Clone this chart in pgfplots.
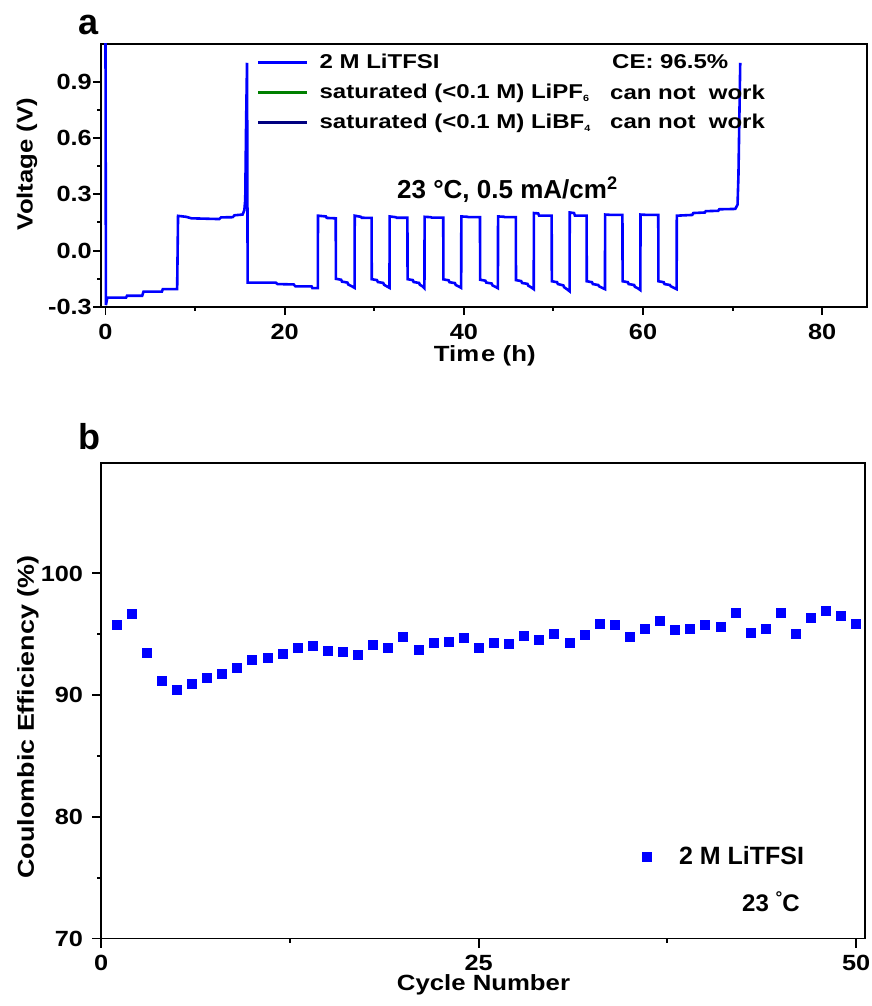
\documentclass[border=0pt]{standalone}
\usepackage{pgfplots}
\pgfplotsset{compat=1.18}
\usepackage{fontspec}
\setmainfont{Liberation Sans}
\newfontfamily\stretchfont{Liberation Sans}[FakeStretch=1.2]
\newfontfamily\labfont{Liberation Sans}[FakeStretch=1.17]
\newfontfamily\tickfont{Liberation Sans}[FakeStretch=1.15]
\definecolor{cblue}{RGB}{0,0,255}
\definecolor{cgreen}{RGB}{0,128,0}
\definecolor{cnavy}{RGB}{0,0,128}
\newcommand{\fs}[1]{\fontsize{#1bp}{#1bp}\selectfont}
\pgfplotsset{
  common/.style={
    scale only axis,
    axis line style={line width=1.9bp},
    tick style={line width=1.9bp, black},
    major tick length=8bp, minor tick length=4bp,
    tick align=outside,
    xtick pos=bottom, ytick pos=left,
    /pgf/number format/assume math mode=true,
    tick label style={font=\tickfont\bfseries\fs{22}},
  }
}
\begin{document}
\begin{tikzpicture}[x=1bp,y=1bp]
\useasboundingbox (0,0) rectangle (872,1006);
% ---------------- panel a ----------------
\begin{axis}[common,
  at={(101bp,699bp)}, anchor=south west,
  width=766bp, height=263bp,
  xmin=-0.5, xmax=85, ymin=-0.3, ymax=1.1,
  xtick={0,20,40,60,80}, minor x tick num=1,
  ytick={-0.3,0,0.3,0.6,0.9}, yticklabels={-0.3,0.0,0.3,0.6,0.9},
  minor y tick num=1,
  yticklabel style={inner sep=1bp},
  xticklabel style={inner sep=1bp, yshift=-8bp},
  xlabel={Tim\kern2bp e (h)},
  ylabel={Voltage (V)},
  every axis x label/.style={at={(rel axis cs:0.501,-0.209)}, anchor=base, font=\labfont\bfseries\fs{22}},
  every axis y label/.style={at={(rel axis cs:-0.0966,0.5437)}, anchor=center, rotate=90, font=\labfont\bfseries\fs{22}},
  legend style={draw=none, fill=none, at={(0.2037,0.9837)}, anchor=north west,
    inner sep=0pt, outer sep=0pt, row sep=0pt, column sep=11bp,
    font=\stretchfont\bfseries\fs{20},
    nodes={inner sep=0pt, outer sep=0pt, text height=20bp, text depth=10bp, anchor=base west}},
  legend cell align=left,
  legend image code/.code={\draw[#1] (0bp,6bp) -- (49bp,6bp);},
]
\addplot[cblue, line width=2.6bp, line join=miter] coordinates {
(0,1.2) (0.05,-0.29) (0.2,-0.25) (2.3,-0.25) (2.4,-0.24) (4.1,-0.24) (4.25,-0.218)
(6.3,-0.218) (6.4,-0.205) (8.0,-0.205) (8.1,0.185) (9.0,0.18) (9.6,0.172)
(12.7,0.168) (12.9,0.177) (14.2,0.178) (14.4,0.188) (15.3,0.192) (15.5,0.215)
(15.6,0.27) (15.7,0.69) (15.8,1.0) (15.87,-0.17) (19.0,-0.17) (19.2,-0.178)
(21.0,-0.18) (21.2,-0.19) (23.0,-0.19) (23.1,-0.2) (23.7,-0.2)
(23.72,0.186) (24.6,0.182) (24.7,0.174) (25.7,0.172)
(25.72,-0.15) (26.3,-0.155) (26.4,-0.165) (27.0,-0.17) (27.1,-0.18) (27.5,-0.19) (27.8,-0.198)
(27.82,0.186) (28.5,0.18) (28.6,0.175) (29.7,0.174)
(29.72,-0.152) (30.3,-0.157) (30.4,-0.167) (31.0,-0.172) (31.1,-0.182) (31.4,-0.19) (31.7,-0.198)
(31.72,0.182) (32.4,0.178) (32.5,0.175) (33.7,0.175)
(33.72,-0.152) (34.3,-0.157) (34.4,-0.167) (35.0,-0.172) (35.1,-0.182) (35.4,-0.19) (35.6,-0.2)
(35.62,0.18) (36.3,0.178) (36.4,0.176) (37.7,0.176)
(37.72,-0.153) (38.3,-0.158) (38.4,-0.168) (39.0,-0.173) (39.1,-0.183) (39.4,-0.19) (39.7,-0.198)
(39.72,0.182) (40.4,0.18) (40.5,0.178) (41.8,0.178)
(41.82,-0.155) (42.4,-0.16) (42.5,-0.17) (43.1,-0.175) (43.2,-0.185) (43.5,-0.192) (43.8,-0.2)
(43.82,0.182) (44.5,0.18) (44.6,0.178) (45.8,0.178)
(45.82,-0.157) (46.4,-0.162) (46.5,-0.172) (47.1,-0.177) (47.2,-0.187) (47.5,-0.195) (47.8,-0.205)
(47.82,0.2) (48.3,0.198) (48.4,0.186) (49.8,0.186)
(49.82,-0.163) (50.4,-0.168) (50.5,-0.178) (51.1,-0.185) (51.2,-0.195) (51.5,-0.205) (51.8,-0.216)
(51.82,0.203) (52.3,0.2) (52.4,0.186) (53.7,0.186)
(53.72,-0.163) (54.3,-0.168) (54.4,-0.178) (55.0,-0.183) (55.1,-0.19) (55.4,-0.197) (55.75,-0.205)
(55.77,0.192) (56.5,0.19) (57.7,0.19)
(57.72,-0.163) (58.3,-0.168) (58.4,-0.178) (59.0,-0.183) (59.1,-0.193) (59.4,-0.2) (59.7,-0.21)
(59.72,0.192) (60.5,0.19) (61.7,0.19)
(61.72,-0.163) (62.3,-0.168) (62.4,-0.178) (63.0,-0.183) (63.1,-0.19) (63.4,-0.197) (63.75,-0.205)
(63.77,0.186) (65.5,0.19) (65.6,0.2) (66.9,0.203) (67.0,0.21) (68.4,0.212) (68.5,0.22)
(70.3,0.222) (70.55,0.245) (70.65,0.4) (70.85,1.0)
};
\addlegendentry{2 M LiTFSI}
\addlegendimage{cgreen, line width=2.6bp}
\addlegendentry{saturated (<0.1 M) LiPF\textsubscript{\fs{9}6}}
\addlegendimage{cnavy, line width=2.6bp}
\addlegendentry{saturated (<0.1 M) LiBF\textsubscript{\fs{9}4}}
\end{axis}
\node[anchor=base west, inner sep=0] at (78,971) {\bfseries\fs{36}a};
\node[anchor=base west, inner sep=0] at (612,937.7) {\stretchfont\bfseries\fs{20}CE: 96.5\%};
\node[anchor=base west, inner sep=0] at (610,906.5) {\stretchfont\bfseries\fs{20}can not\ \ work};
\node[anchor=base west, inner sep=0] at (610,877.5) {\stretchfont\bfseries\fs{20}can not\ \ work};
\node[anchor=base west, inner sep=0] at (397,807.7) {\bfseries\fs{26}23 °C, 0.5 mA/cm\textsuperscript{2}};
% ---------------- panel b ----------------
\begin{axis}[common,
  at={(101.2bp,67.5bp)}, anchor=south west,
  width=764bp, height=475.8bp,
  xmin=0, xmax=50.6, ymin=70, ymax=109.1,
  xtick={0,25,50}, minor x tick num=1,
  ytick={70,80,90,100}, minor y tick num=1,
  major tick length=9bp,
  yticklabel style={inner sep=1bp, xshift=-8bp},
  xticklabel style={inner sep=1bp, yshift=-6bp},
  xlabel={Cycle Number},
  ylabel={Coulombic Efficiency (\%)},
  every axis x label/.style={at={(rel axis cs:0.5004,-0.109)}, anchor=base, font=\labfont\bfseries\fs{22}},
  every axis y label/.style={at={(rel axis cs:-0.0958,0.4655)}, anchor=center, rotate=90, font=\labfont\bfseries\fs{23}},
  legend style={draw=none, fill=none, at={(0.7085,0.1944)}, anchor=north west,
    inner sep=0pt, outer sep=0pt, column sep=27.5bp,
    font=\bfseries\fs{25},
    nodes={inner sep=0pt, outer sep=0pt, text height=18bp, text depth=0bp, anchor=base west}},
  legend image code/.code={\draw[#1] plot coordinates {(4.5bp,7bp)};},
]
\addplot[only marks, mark=square*, mark size=4.5bp, color=cblue] coordinates {
(1,95.75) (2,96.66) (3,93.51) (4,91.15) (5,90.41) (6,90.93) (7,91.42) (8,91.78) (9,92.24) (10,92.88)
(11,93.10) (12,93.37) (13,93.92) (14,94.03) (15,93.64) (16,93.56) (17,93.34) (18,94.11) (19,93.92) (20,94.79)
(21,93.76) (22,94.33) (23,94.38) (24,94.71) (25,93.92) (26,94.33) (27,94.19) (28,94.85) (29,94.52) (30,95.07)
(31,94.30) (32,94.99) (33,95.89) (34,95.75) (35,94.79) (36,95.48) (37,96.11) (38,95.34) (39,95.48) (40,95.75)
(41,95.61) (42,96.80) (43,95.12) (44,95.48) (45,96.80) (46,95.07) (47,96.35) (48,96.93) (49,96.55) (50,95.89)
};
\addlegendentry{2 M LiTFSI}
\end{axis}
\node[anchor=base west, inner sep=0] at (78,556) {\bfseries\fs{36}b};
\node[anchor=base west, inner sep=0] at (742,94.3) {\bfseries\fs{24}23 \raisebox{0.35em}{\fs{17}°}C};
\end{tikzpicture}
\end{document}
